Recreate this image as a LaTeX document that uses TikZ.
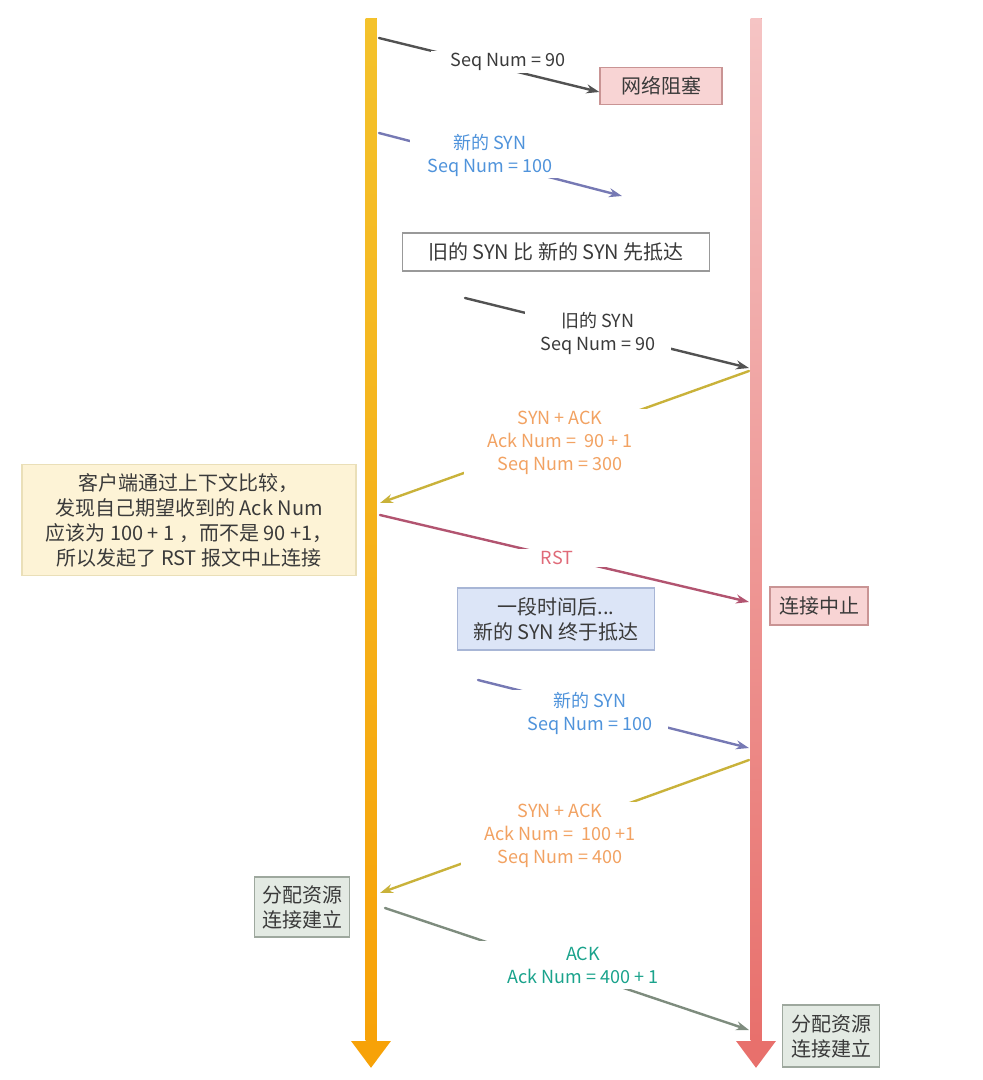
\documentclass[tikz,border=0pt]{standalone}
\usepackage{fontspec}
\setmainfont{Noto Sans CJK SC}
\usetikzlibrary{arrows.meta, positioning, calc}

\definecolor{clientTop}{HTML}{F4C22C}
\definecolor{clientBot}{HTML}{F7A208}
\definecolor{serverTop}{HTML}{F5C4C4}
\definecolor{serverBot}{HTML}{E8706C}
\definecolor{darkline}{HTML}{525252}
\definecolor{darktext}{HTML}{3A3A3A}
\definecolor{newline}{HTML}{7679B4}
\definecolor{newtext}{HTML}{4F93DB}
\definecolor{ackline}{HTML}{C9B23A}
\definecolor{acktext}{HTML}{F2A262}
\definecolor{rstline}{HTML}{B25470}
\definecolor{rsttext}{HTML}{E06A78}
\definecolor{finline}{HTML}{7E8C7E}
\definecolor{fintext}{HTML}{1AA38C}
\definecolor{pinkfill}{HTML}{F8D4D4}
\definecolor{pinkdraw}{HTML}{C99494}
\definecolor{notefill}{HTML}{FDF3D6}
\definecolor{notedraw}{HTML}{EADFB8}
\definecolor{bluefill}{HTML}{DCE5F7}
\definecolor{bluedraw}{HTML}{A8B6D6}
\definecolor{greenfill}{HTML}{E3EAE3}
\definecolor{greendraw}{HTML}{9EA89E}

\begin{document}
\begin{tikzpicture}[x=1pt, y=-1pt,
    % Box styles
    box/.style={
        rectangle, align=center,
        font=\fontsize{20}{25}\selectfont, text=darktext,
        line width=1.2pt, inner xsep=6pt, inner ysep=4pt,
    },
    lifeline/.style={
        line width=11pt, draw=#1,
        -{Triangle[length=27pt, width=38pt]},
    },
    msg/.style={
        draw=#1, line width=2.4pt, line cap=round,
        -{Stealth[length=13pt, width=9pt]},
    },
    lbl/.style={
        font=\fontsize{18}{23}\selectfont, text=#1,
        fill=white, align=center, inner xsep=12pt, inner ysep=2pt,
    },
]

\useasboundingbox (0,0) rectangle (983,1080);

% === Lifelines ===
\coordinate (c-top) at (371,18);
\coordinate (c-bot) at (371,1068);
\coordinate (s-top) at (756,18);
\coordinate (s-bot) at (756,1068);

\draw[lifeline=clientBot] (c-top) -- (c-bot);
\shade[top color=clientTop, bottom color=clientBot]
    ($(c-top)+(-5.5,0)$) rectangle ($(c-bot)+(5.5,-28)$);
\draw[lifeline=serverBot] (s-top) -- (s-bot);
\shade[top color=serverTop, bottom color=serverBot]
    ($(s-top)+(-5.5,0)$) rectangle ($(s-bot)+(5.5,-28)$);

% === Boxes ===
\node[box, fill=pinkfill, draw=pinkdraw, minimum width=122pt, minimum height=37pt]
    (block) at (661,86) {网络阻塞};
\node[box, fill=white, draw=black!40, minimum width=307pt, minimum height=38pt]
    (early) at (556,252) {旧的 SYN 比 新的 SYN 先抵达};
\node[box, fill=notefill, draw=notedraw, minimum width=334pt, minimum height=111pt]
    (client-note) at (189,520) {客户端通过上下文比较，\\发现自己期望收到的 Ack Num\\应该为 100 + 1 ，而不是 90 +1，\\所以发起了 RST 报文中止连接};
\node[box, fill=pinkfill, draw=pinkdraw, minimum width=98pt, minimum height=38pt]
    (abort) at (819,606) {连接中止};
\node[box, fill=bluefill, draw=bluedraw, minimum width=197pt, minimum height=62pt]
    (later) at (556,619) {一段时间后...\\新的 SYN 终于抵达};
\node[box, fill=greenfill, draw=greendraw, minimum width=95pt, minimum height=60pt]
    (c-est) at (302,907) {分配资源\\连接建立};
\node[box, fill=greenfill, draw=greendraw, minimum width=97pt, minimum height=62pt]
    (s-est) at (831,1036) {分配资源\\连接建立};

% === Message end points ===
\coordinate (m1-a) at (379,38);
\coordinate (m2-a) at (379,133);
\coordinate (m2-b) at (622,196);
\coordinate (m3-a) at (465,298);
\coordinate (m3-b) at (749,368);
\coordinate (m4-a) at (749,371);
\coordinate (m4-b) at (380,503);
\coordinate (m5-a) at (380,515);
\coordinate (m5-b) at (749,602);
\coordinate (m6-a) at (478,680);
\coordinate (m6-b) at (749,748);
\coordinate (m7-a) at (749,760);
\coordinate (m7-b) at (380,893);
\coordinate (m8-a) at (385,908);
\coordinate (m8-b) at (749,1030);

% === Messages ===
\draw[msg=darkline] (m1-a) -- ([yshift=-6pt]block.west);
\node[lbl=darktext, inner xsep=20pt] (l-old1) at (508,62) {Seq Num = 90};

\draw[msg=newline] (m2-a) -- (m2-b);
\node[lbl=newtext, inner xsep=18pt] (l-new1) at (490,155) {新的 SYN\\Seq Num = 100};

\draw[msg=darkline] (m3-a) -- (m3-b);
\node[lbl=darktext, inner xsep=16pt] (l-old2) at (598,333) {旧的 SYN\\Seq Num = 90};

\draw[msg=ackline] (m4-a) -- (m4-b);
\node[lbl=acktext, inner xsep=24pt] (l-ack1) at (560,443) {SYN + ACK\\Ack Num =\ \ 90 + 1\\Seq Num = 300};

\draw[msg=rstline] (m5-a) -- (m5-b);
\node[lbl=rsttext, inner xsep=42pt] (l-rst) at (557,558) {RST};

\draw[msg=newline] (m6-a) -- (m6-b);
\node[lbl=newtext, inner xsep=16pt] (l-new2) at (590,713) {新的 SYN\\Seq Num = 100};

\draw[msg=ackline] (m7-a) -- (m7-b);
\node[lbl=acktext, inner xsep=24pt] (l-ack2) at (560,836) {SYN + ACK\\Ack Num =\ \ 100 +1\\Seq Num = 400};

\draw[msg=finline] (m8-a) -- (m8-b);
\node[lbl=fintext, inner xsep=30pt, inner ysep=6pt] (l-fin) at (583,965) {ACK\\Ack Num = 400 + 1};

\end{tikzpicture}
\end{document}
